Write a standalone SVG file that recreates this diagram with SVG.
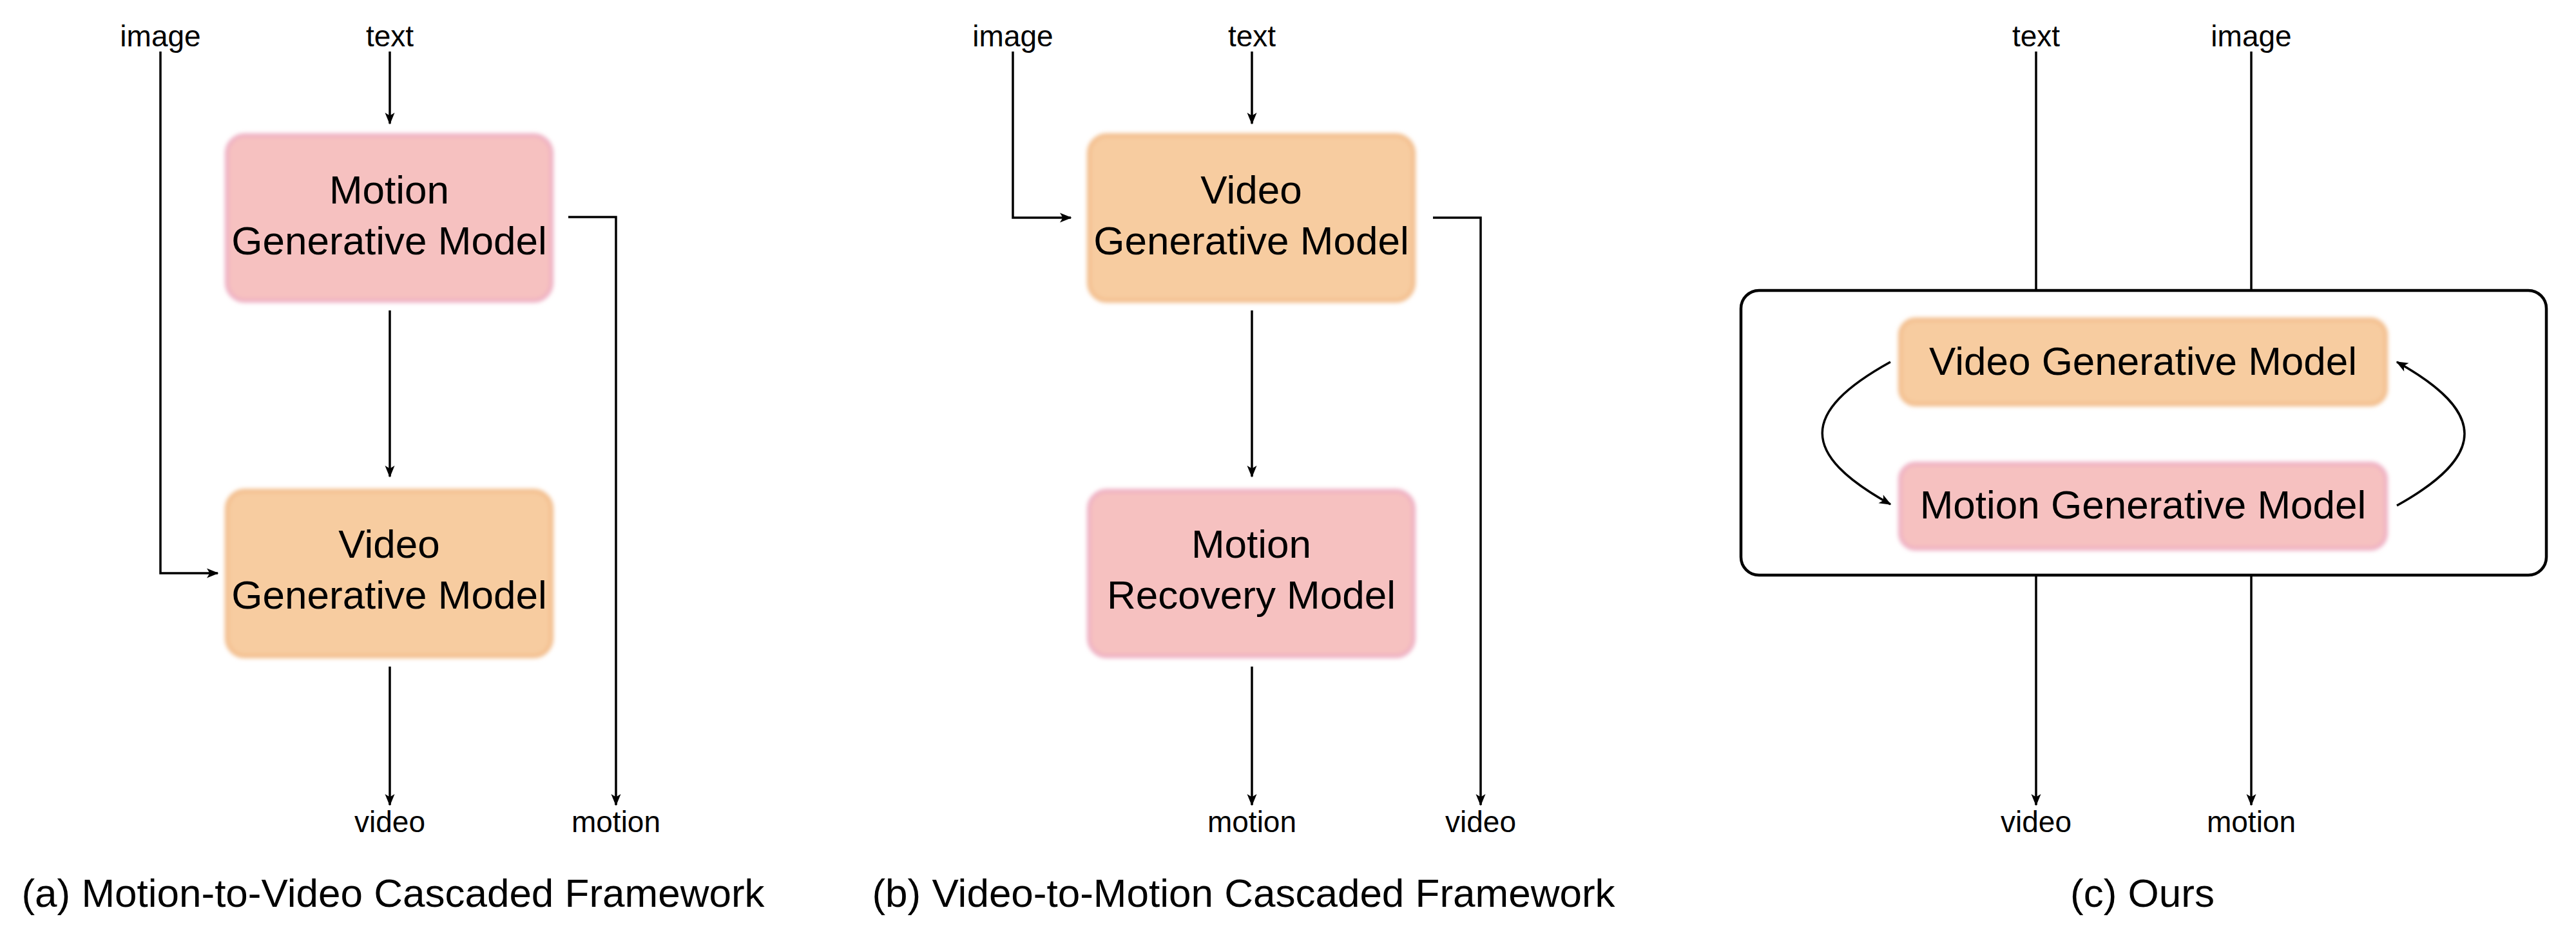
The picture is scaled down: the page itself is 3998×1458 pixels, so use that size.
<svg xmlns="http://www.w3.org/2000/svg" width="3998" height="1458" viewBox="0 0 3998 1458">
<style>
.lbl{font-family:"Liberation Sans",Arial,sans-serif;font-size:46px;fill:#000;text-anchor:middle}
.nt{font-family:"Liberation Sans",Arial,sans-serif;font-size:62px;fill:#000;text-anchor:middle}
.cap{font-family:"Liberation Sans",Arial,sans-serif;font-size:62px;fill:#000;text-anchor:middle}
.ln{fill:none;stroke:#000;stroke-width:3.5}
.arr{marker-end:url(#ah)}
.or{fill:#F7CCA0;stroke:#F2BC8A;stroke-width:6;filter:url(#bl)}
.pk{fill:#F6C1C0;stroke:#EEAFC2;stroke-width:6;filter:url(#bl)}
</style>
<defs>
<filter id="bl" x="-5%" y="-10%" width="110%" height="120%"><feGaussianBlur stdDeviation="3"/></filter>
<marker id="ah" markerUnits="userSpaceOnUse" viewBox="-20 -10 22 20" refX="0" refY="0" markerWidth="22" markerHeight="20" orient="auto">
<path d="M1.5,0 L-17,-7.5 L-12.5,0 L-17,7.5 Z" fill="#000"/>
</marker>
</defs>
<rect width="3998" height="1458" fill="#fff"/>

<g id="connectors">
<!-- panel a -->
<path class="ln arr" d="M249,80 V890 H338"/>
<path class="ln arr" d="M605,80 V192"/>
<path class="ln arr" d="M605,482 V740"/>
<path class="ln arr" d="M882,337 H956 V1250"/>
<path class="ln arr" d="M605,1035 V1250"/>
<!-- panel b -->
<path class="ln arr" d="M1572,80 V338 H1662"/>
<path class="ln arr" d="M1943,80 V192"/>
<path class="ln arr" d="M1943,482 V740"/>
<path class="ln arr" d="M2224,338 H2298 V1250"/>
<path class="ln arr" d="M1943,1035 V1250"/>
<!-- panel c -->
<path class="ln" d="M3160,80 V451"/>
<path class="ln" d="M3494,80 V451"/>
<path class="ln arr" d="M3160,893 V1250"/>
<path class="ln arr" d="M3494,893 V1250"/>
<path class="ln arr" d="M2934,562 C2793,640 2793,705 2934,783"/>
<path class="ln arr" d="M3720,785 C3860,707 3860,640 3720,562"/>
</g>

<g id="labels">
<text class="lbl" x="249" y="72">image</text>
<text class="lbl" x="605" y="72">text</text>
<text class="lbl" x="605" y="1292">video</text>
<text class="lbl" x="956" y="1292">motion</text>
<text class="lbl" x="1572" y="72">image</text>
<text class="lbl" x="1943" y="72">text</text>
<text class="lbl" x="1943" y="1292">motion</text>
<text class="lbl" x="2298" y="1292">video</text>
<text class="lbl" x="3160" y="72">text</text>
<text class="lbl" x="3494" y="72">image</text>
<text class="lbl" x="3160" y="1292">video</text>
<text class="lbl" x="3494" y="1292">motion</text>
</g>

<g id="node-a-motion">
<rect class="pk" x="352" y="210" width="504" height="257" rx="28"/>
<text class="nt" x="604" y="316">Motion</text>
<text class="nt" x="604" y="395">Generative Model</text>
</g>
<g id="node-a-video">
<rect class="or" x="352" y="762" width="504" height="257" rx="28"/>
<text class="nt" x="604" y="866">Video</text>
<text class="nt" x="604" y="945">Generative Model</text>
</g>
<g id="node-b-video">
<rect class="or" x="1690" y="210" width="504" height="257" rx="28"/>
<text class="nt" x="1942" y="316">Video</text>
<text class="nt" x="1942" y="395">Generative Model</text>
</g>
<g id="node-b-motion">
<rect class="pk" x="1690" y="762" width="504" height="257" rx="28"/>
<text class="nt" x="1942" y="866">Motion</text>
<text class="nt" x="1942" y="945">Recovery Model</text>
</g>
<g id="node-c-container">
<rect x="2702" y="451" width="1250" height="442" rx="28" fill="none" stroke="#000" stroke-width="4.5"/>
</g>
<g id="node-c-video">
<rect class="or" x="2949" y="496" width="754" height="132" rx="24"/>
<text class="nt" x="3326" y="582">Video Generative Model</text>
</g>
<g id="node-c-motion">
<rect class="pk" x="2949" y="720" width="754" height="132" rx="24"/>
<text class="nt" x="3326" y="805">Motion Generative Model</text>
</g>

<g id="captions">
<text class="cap" x="610" y="1408">(a) Motion-to-Video Cascaded Framework</text>
<text class="cap" x="1930" y="1408">(b) Video-to-Motion Cascaded Framework</text>
<text class="cap" x="3325" y="1408">(c) Ours</text>
</g>
</svg>
